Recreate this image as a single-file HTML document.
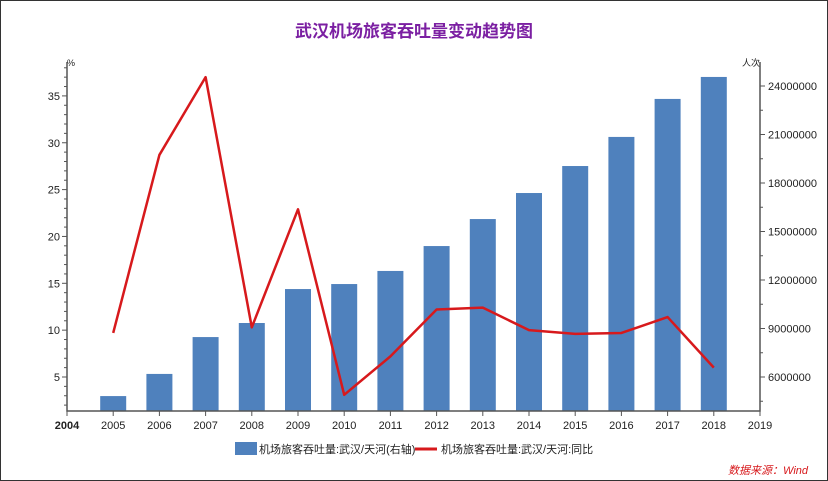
<!DOCTYPE html>
<html><head><meta charset="utf-8"><style>
body{margin:0;background:#fff}
svg{display:block;font-family:"Liberation Sans","Noto Sans CJK SC",sans-serif}
</style></head><body>
<svg id="c" width="828" height="481">
<rect x="0.5" y="0.5" width="827" height="480" fill="#fff" stroke="#333"/>
<text x="414" y="37" text-anchor="middle" font-size="17" font-weight="bold" fill="#7b1fa2">武汉机场旅客吞吐量变动趋势图</text>
<text x="67" y="66" font-size="9" fill="#222">%</text>
<text x="742" y="66" font-size="9" fill="#222">人次</text>
<g id="bars"></g><g id="axes"></g><g id="line"></g>
<rect x="235" y="442" width="22" height="13" fill="#4f81bd"/>
<text x="259" y="453" font-size="11" fill="#222">机场旅客吞吐量:武汉/天河(右轴)</text>
<line x1="415" y1="449" x2="437" y2="449" stroke="#d7191c" stroke-width="3"/>
<text x="441" y="453" font-size="11" fill="#222">机场旅客吞吐量:武汉/天河:同比</text>
<text x="808" y="474" text-anchor="end" font-size="11" font-style="italic" fill="#d7191c">数据来源：Wind</text>
</svg>
<script>
const years=[2005,2006,2007,2008,2009,2010,2011,2012,2013,2014,2015,2016,2017,2018];
const passengers=[4820000,6190000,8470000,9340000,11440000,11750000,12560000,14100000,15770000,17380000,19050000,20850000,23200000,24560000];
const growth=[9.7,28.7,37.0,10.3,22.9,3.1,7.2,12.2,12.4,10.0,9.6,9.7,11.4,6.0];
const xTicks=[2004,2005,2006,2007,2008,2009,2010,2011,2012,2013,2014,2015,2016,2017,2018,2019];
const leftTicks=[5,10,15,20,25,30,35];
const rightTicks=[6000000,9000000,12000000,15000000,18000000,21000000,24000000];
const X0=67,X1=760,Y0=411,Y1=62;
const x=v=>X0+(v-2004)/15*(X1-X0);
const yl=v=>377-(v-5)*9.37;
const yr=v=>377-(v-6000000)/3000000*48.5;
const NS="http://www.w3.org/2000/svg";
function mk(p,t,a){const e=document.createElementNS(NS,t);for(const k in a)e.setAttribute(k,a[k]);p.appendChild(e);return e;}
const bars=document.getElementById('bars'),axes=document.getElementById('axes'),line=document.getElementById('line');
years.forEach((yv,i)=>{const b=mk(bars,'rect',{x:x(yv)-13,y:yr(passengers[i]),width:26,height:Y0-yr(passengers[i]),fill:'#4f81bd'});

});
const ax=mk(axes,'path',{d:`M${X0},${Y1}V${Y0}H${X1}V${Y1}`,stroke:'#555',fill:'none','stroke-width':1.5});


xTicks.forEach(t=>{mk(axes,'line',{x1:x(t),x2:x(t),y1:Y0,y2:Y0+5,stroke:'#555'});
const tx=mk(axes,'text',{x:x(t),y:Y0+18,'text-anchor':'middle','font-size':11,fill:'#222','font-weight':t==2004?'bold':'normal'});tx.textContent=t;

});
for(let v=2;v<=38;v++){const yy=yl(v);if(yy<Y1||yy>Y0)continue;const major=v%5==0;mk(axes,'line',{x1:X0-(major?5:3),x2:X0,y1:yy,y2:yy,stroke:'#555'});}
leftTicks.forEach(t=>{const tx=mk(axes,'text',{x:X0-7,y:yl(t)+4,'text-anchor':'end','font-size':11,fill:'#222'});tx.textContent=t;

});
for(let v=4500000;v<=25500000;v+=1500000){const yy=yr(v);if(yy<Y1||yy>Y0)continue;const major=v%3000000==0;mk(axes,'line',{x1:X1,x2:X1+(major?5:3),y1:yy,y2:yy,stroke:'#555'});}
rightTicks.forEach(t=>{const tx=mk(axes,'text',{x:X1+8,y:yr(t)+4,'font-size':11,fill:'#222'});tx.textContent=t;

});
const pl=mk(line,'polyline',{points:years.map((yv,i)=>x(yv)+','+yl(growth[i])).join(' '),fill:'none',stroke:'#d7191c','stroke-width':2.5,'stroke-linejoin':'round'});


</script>
</body></html>
